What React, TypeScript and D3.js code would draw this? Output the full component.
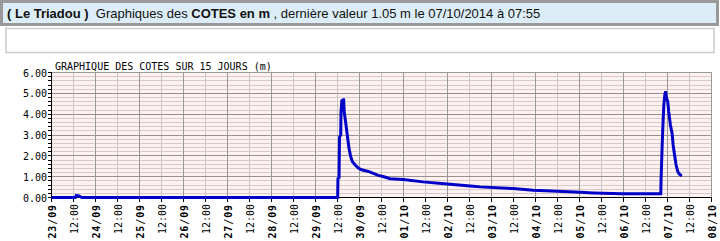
import React from "react";
import * as d3 from "d3";

const times: string[] = [
  "2014-09-23T00:00", "2014-09-23T13:00", "2014-09-23T13:30", "2014-09-23T15:00", "2014-09-23T16:30",
  "2014-09-29T12:05", "2014-09-29T12:15", "2014-09-29T12:50", "2014-09-29T13:05", "2014-09-29T13:45", "2014-09-29T13:55",
  "2014-09-29T14:25", "2014-09-29T15:00", "2014-09-29T15:20", "2014-09-29T15:40", "2014-09-29T16:25",
  "2014-09-29T17:20", "2014-09-29T18:15", "2014-09-29T19:10", "2014-09-29T20:05", "2014-09-29T21:30",
  "2014-09-29T23:20", "2014-09-30T01:10", "2014-09-30T04:50", "2014-09-30T10:15", "2014-09-30T12:50",
  "2014-09-30T16:40", "2014-09-30T23:45", "2014-10-01T10:40", "2014-10-01T23:50", "2014-10-02T14:00",
  "2014-10-02T17:50", "2014-10-03T11:50", "2014-10-03T22:45", "2014-10-04T11:55", "2014-10-05T00:25",
  "2014-10-05T07:30", "2014-10-05T23:10", "2014-10-06T20:20", "2014-10-06T20:30", "2014-10-06T21:05",
  "2014-10-06T21:35", "2014-10-06T22:00", "2014-10-06T22:30", "2014-10-06T22:55", "2014-10-06T23:25",
  "2014-10-07T00:10", "2014-10-07T00:40", "2014-10-07T01:35", "2014-10-07T02:30", "2014-10-07T03:05",
  "2014-10-07T03:50", "2014-10-07T04:40", "2014-10-07T05:35", "2014-10-07T06:15", "2014-10-07T07:00",
  "2014-10-07T07:55",
];
const levels: number[] = [
  0.0, 0.0, 0.1, 0.07, 0.0,
  0.0, 0.9, 0.95, 2.9, 3.0, 4.1,
  4.7, 4.55, 4.75, 4.1, 3.63,
  3.0, 2.37, 1.97, 1.73, 1.57,
  1.41, 1.33, 1.25, 1.06, 1.01,
  0.9, 0.86, 0.75, 0.65, 0.54,
  0.51, 0.43, 0.35, 0.3, 0.25,
  0.22, 0.18, 0.18, 0.86, 2.49,
  3.63, 4.43, 4.9, 5.1, 4.8,
  4.59, 4.11, 3.48, 3.08, 2.52,
  2.05, 1.57, 1.25, 1.15, 1.08,
  1.05,
];
const dayLabels: string[] = [
  "23/09", "24/09", "25/09", "26/09", "27/09", "28/09", "29/09", "30/09",
  "01/10", "02/10", "03/10", "04/10", "05/10", "06/10", "07/10", "08/10",
];
const yTickLabels: string[] = ["0.00", "1.00", "2.00", "3.00", "4.00", "5.00", "6.00"];
const chartTitle = "GRAPHIQUE DES COTES SUR 15 JOURS (m)";

const parse = d3.timeParse("%Y-%m-%dT%H:%M");
const start = parse("2014-09-23T00:00") as Date;
const end = parse("2014-10-08T00:00") as Date;

export default function App() {
  const W = 720, H = 241;
  const x = d3.scaleTime().domain([start, end]).range([51.5, 711.5]);
  const y = d3.scaleLinear().domain([0, 6]).range([197.5, 72.5]);
  const data = times.map((t, i) => ({ t: parse(t) as Date, v: levels[i] }));
  const line = d3
    .line<{ t: Date; v: number }>()
    .x((d) => x(d.t))
    .y((d) => y(d.v))
    .curve(d3.curveLinear);

  const halfDays = d3.timeHour.every(12)!.range(start, d3.timeHour.offset(end, 1));
  const minorY = d3.range(0, 31).map((i) => i * 0.2);
  const mono = "'DejaVu Sans Mono', 'Liberation Mono', monospace";
  const px = (v: number) => Math.round(v - 0.5) + 0.5;

  return (
    <svg width={W} height={H} style={{ position: "absolute", left: 0, top: 0 }}>
      {/* header */}
      <rect x={1.5} y={1.5} width={716} height={23} fill="#dcedf7" stroke="#999" strokeWidth={3} />
      <text x={7} y={17.5} fontFamily="'Liberation Sans', Arial, sans-serif" fontSize={13} fill="#111">
        <tspan fontWeight="bold">( Le Triadou )</tspan>
        <tspan>{"\u00a0 Graphiques des "}</tspan>
        <tspan fontWeight="bold">COTES en m</tspan>
        <tspan>{" , dernière valeur 1.05 m le 07/10/2014 à 07:55"}</tspan>
      </text>
      <rect x={6} y={28.5} width={708} height={24} fill="#fff" stroke="#ccc" strokeWidth={1.5} />

      {/* plot background */}
      <rect x={51.5} y={72.5} width={660} height={125} fill="#fdf2f2" />
      {minorY.map((v, i) =>
        i % 5 === 0 ? null : (
          <line key={"my" + i} x1={51.5} x2={711.5} y1={px(y(v))} y2={px(y(v))} stroke="#dcc8c8" />
        )
      )}
      {halfDays.map((d, i) =>
        d.getHours() === 12 ? (
          <line key={"hv" + i} x1={px(x(d))} x2={px(x(d))} y1={72.5} y2={197.5} stroke="#c8c8c8" />
        ) : null
      )}
      {yTickLabels.map((_, i) => (
        <line key={"My" + i} x1={51.5} x2={711.5} y1={px(y(i))} y2={px(y(i))} stroke="#9a8e8e" />
      ))}
      {halfDays.map((d, i) =>
        d.getHours() === 0 ? (
          <line key={"dv" + i} x1={px(x(d))} x2={px(x(d))} y1={72.5} y2={197.5} stroke="#999" />
        ) : null
      )}
      <line x1={711.5} x2={711.5} y1={72.5} y2={197.5} stroke="#999" />
      <line x1={51.5} x2={711.5} y1={72.5} y2={72.5} stroke="#999" />

      {/* axes */}
      <line x1={51.5} x2={51.5} y1={72} y2={198} stroke="#000" />
      <line x1={51} x2={712} y1={197.5} y2={197.5} stroke="#000" />
      {minorY.map((v, i) => (
        <line key={"yt" + i} x1={48} x2={51} y1={px(y(v))} y2={px(y(v))} stroke="#000" />
      ))}
      {yTickLabels.map((lab, i) => (
        <text key={"yl" + i} x={47} y={y(i) + 4} textAnchor="end" fontFamily={mono} fontSize={10} fill="#000">
          {lab}
        </text>
      ))}
      {halfDays.map((d, i) => (
        <line key={"xt" + i} x1={px(x(d))} x2={px(x(d))} y1={198} y2={202} stroke="#000" />
      ))}
      {halfDays.map((d, i) => {
        const isDay = d.getHours() === 0;
        const lab = isDay ? dayLabels[Math.round(i / 2)] : "12:00";
        const xx = x(d) + 4;
        return (
          <text
            key={"xl" + i}
            transform={`translate(${xx},204) rotate(-90)`}
            textAnchor="end"
            fontFamily={mono}
            fontSize={10}
            fontWeight={isDay ? "bold" : "normal"}
            letterSpacing={isDay ? 0.9 : 0}
            fill="#000"
          >
            {lab}
          </text>
        );
      })}
      <text x={55} y={70} fontFamily={mono} fontSize={10} fill="#000">
        {chartTitle}
      </text>

      {/* series */}
      <path d={line(data) ?? ""} fill="none" stroke="#0000c8" strokeWidth={3} strokeLinejoin="miter" />
    </svg>
  );
}
